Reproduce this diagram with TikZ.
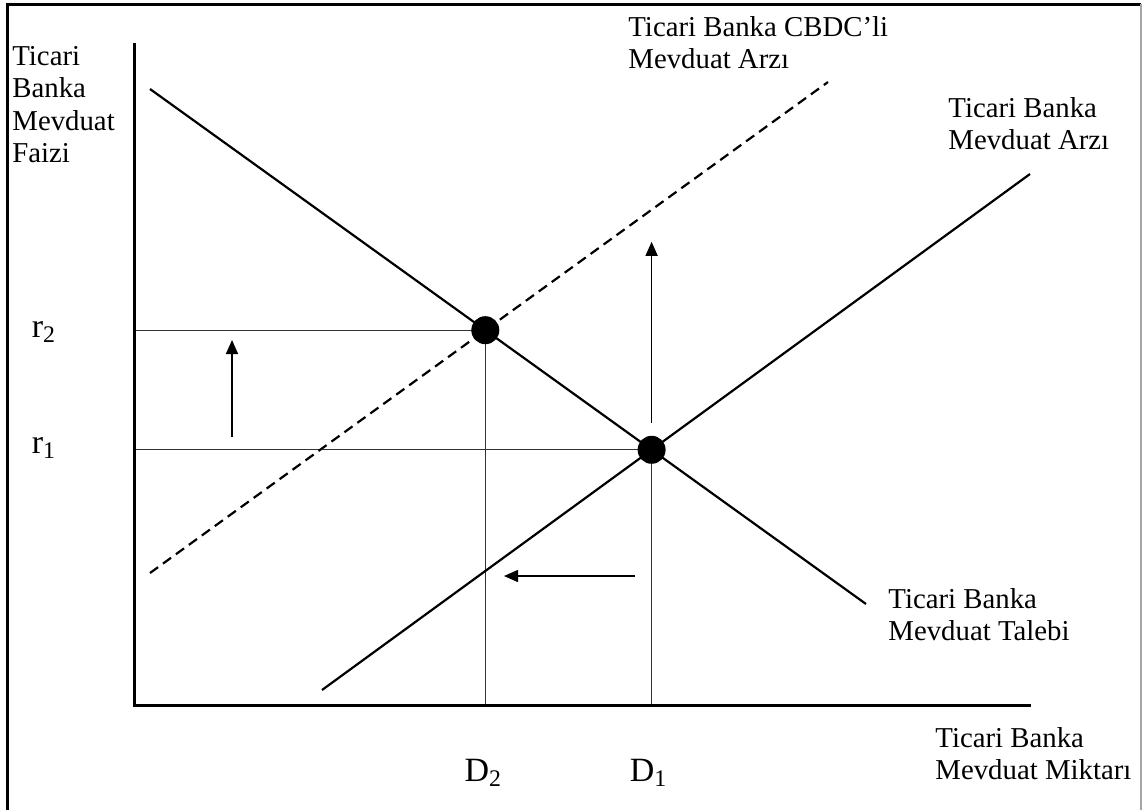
\documentclass[tikz,border=0pt]{standalone}
\usepackage{fontspec}
\setmainfont{Liberation Serif}
\usetikzlibrary{arrows.meta, calc, intersections}

\begin{document}
\begin{tikzpicture}[x=0.5pt, y=-0.5pt,
    axis/.style={line width=1.5pt},
    curve/.style={line width=1.1pt},
    shifted/.style={curve, dash pattern=on 5pt off 3pt},
    guide/.style={line width=0.6pt, black!80},
    move/.style={-{Triangle[length=7pt,width=6pt]}, line width=0.7pt},
    lbl/.style={font=\fontsize{14.4}{16.2}\selectfont, align=left, inner sep=0pt},
    tick/.style={font=\fontsize{17}{19}\selectfont, inner sep=0pt}
  ]
    \useasboundingbox (0,0) rectangle (1144,810);
    % frame
    \draw[line width=1.5pt] (7,810) -- (7,4) -- (1141,4);
    \draw[line width=0.6pt, black!35] (1141,4) -- (1141,810);

    % axes
    \coordinate (O)    at (134,705);
    \coordinate (ytop) at (134,43);
    \coordinate (xend) at (1031,705);

    % lines
    \coordinate (demA) at (150,89);
    \coordinate (demB) at (866,604);
    \coordinate (supA) at (322,690);
    \coordinate (supB) at (1030,174);
    \coordinate (cbdcA) at (150,573);
    \coordinate (cbdcB) at (828,82);

    \path[name path=dem]  (demA) -- (demB);
    \path[name path=sup]  (supA) -- (supB);
    \path[name path=cbdc] (cbdcA) -- (cbdcB);
    \path[name intersections={of=dem and sup, by=E1}];
    \path[name intersections={of=dem and cbdc, by=E2}];

    \draw[guide] (O |- E2) -- (E2) -- (E2 |- O);
    \draw[guide] (O |- E1) -- (E1) -- (E1 |- O);

    \draw[axis] (ytop) -- (O) -- (xend);
    \draw[curve]   (demA) -- (demB);
    \draw[curve]   (supA) -- (supB);
    \draw[shifted] (cbdcA) -- (cbdcB);

    \fill (E1) circle (7pt);
    \fill (E2) circle (7pt);

    % shifts
    \coordinate (upA) at ($(E1)+(0,-27)$);
    \coordinate (upB) at ($(E1)+(0,-208)$);
    \draw[move] (upA) -- (upB);
    \coordinate (rA) at (232,437);
    \coordinate (rB) at (232,340);
    \draw[move] (rA) -- (rB);
    \coordinate (dA) at (635,576);
    \coordinate (dB) at (504,576);
    \draw[move] (dA) -- (dB);

    % labels
    \coordinate (r2pos) at ($(O |- E2)+(-90,2)$);
    \coordinate (r1pos) at ($(O |- E1)+(-90,-2)$);
    \coordinate (d2pos) at ($(E2 |- O)+(-2,68)$);
    \coordinate (d1pos) at ($(E1 |- O)+(-3,68)$);
    \node[tick] (r2) at (r2pos) {r\textsubscript{2}};
    \node[tick] (r1) at (r1pos) {r\textsubscript{1}};
    \node[tick] (d2) at (d2pos) {D\textsubscript{2}};
    \node[tick] (d1) at (d1pos) {D\textsubscript{1}};
    \node[lbl, anchor=north west] (faiz)   at (12,46)  {Ticari\\Banka\\Mevduat\\Faizi};
    \node[lbl, anchor=north west] (miktar) at (935,727) {Ticari Banka\\Mevduat Miktarı};
    \node[lbl, anchor=north west] (talep)  at (888,588) {Ticari Banka\\Mevduat Talebi};
    \node[lbl, anchor=north west] (arz)    at (948,97)  {Ticari Banka\\Mevduat Arzı};
    \node[lbl, anchor=north west] (cbdc)   at (628,16)  {Ticari Banka CBDC’li\\Mevduat Arzı};
  \end{tikzpicture}
\end{document}
